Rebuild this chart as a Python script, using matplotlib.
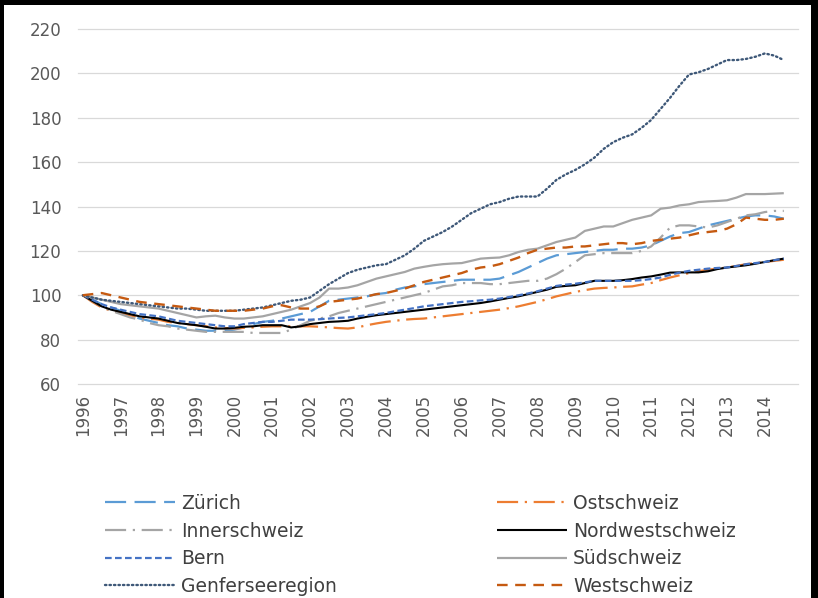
import matplotlib
matplotlib.use("Agg")
import matplotlib.pyplot as plt
from matplotlib.patches import Rectangle
import numpy as np

# Quarterly house price index, 1996 Q1 = 100 (1996 Q1 .. 2014 Q3)
years = list(range(1996, 2015))

zuerich = [
    100, 98, 96, 94.5,  93, 91, 89.5, 88.5,  87.5, 86.5, 86, 85,  84.5, 84, 84, 84,
    84.5, 85.5, 87, 88,  88.5, 89.5, 90.5, 91.5,  92.5, 95, 97.5, 98,  98.5, 99, 99.5, 100.5,
    101, 102.5, 103.5, 104,  105, 105.5, 106, 106.5,  107, 107, 107, 107,  107.5, 109, 110.5, 112.5,
    114.5, 116.5, 118, 118.5,  119, 119.5, 120, 120.5,  120.5, 121, 121, 121.5,  122.5, 124.5, 126.5, 128,
    128.5, 130, 131.5, 132.5,  133.5, 134.5, 135.5, 136,  136, 135.5, 134.5]

ostschweiz = [
    100, 97, 94.5, 93,  92, 91, 90, 89.5,  89, 88, 87.5, 87,  86.5, 86, 85.5, 85.2,
    85, 85.3, 85.5, 85.8,  86, 86, 86, 86,  86, 85.8, 85.5, 85.2,  85, 85.5, 86.5, 87.3,
    88, 88.5, 89, 89.3,  89.5, 90, 90.5, 91,  91.5, 92, 92.5, 93,  93.5, 94.2, 95, 96,
    97, 98.2, 99.5, 100.5,  101.5, 102.3, 103, 103.3,  103.5, 103.8, 104, 104.8,  105.5, 106.8, 108, 109,
    110, 110.8, 111.5, 112,  112.5, 113.2, 114, 114.5,  115, 115.5, 116]

innerschweiz = [
    100, 97.5, 95, 93,  91.5, 90, 89, 87.5,  86.5, 86, 85, 84.5,  84, 83.5, 83.5, 83.5,
    83.5, 83.5, 83, 83,  83, 83, 84.5, 86.5,  88.5, 89.5, 90.5, 92,  93, 94, 95, 96,
    97, 98, 99, 100,  101, 102.5, 104, 104.5,  105.5, 105.5, 105.5, 105,  105, 105.5, 106, 106.5,
    106.5, 107.5, 109.5, 112,  115, 118, 118.5, 119,  119, 119, 119, 120,  122, 126, 130.5, 131.5,
    131.5, 131, 130.5, 131.5,  133, 134.5, 136, 136.5,  137.5, 138, 138]

nordwestschweiz = [
    100, 97.5, 95, 93.5,  92.5, 91.5, 90.5, 90,  89.5, 88.5, 87.5, 87,  86.5, 85.8, 85, 85,
    85.3, 85.8, 86, 86.5,  86.5, 86.5, 85.5, 86,  87, 87.5, 88, 88.2,  88.5, 89.5, 90.3, 91,
    91.5, 92, 92.5, 93,  93.5, 94, 94.5, 95,  95.5, 96, 96.5, 97.2,  98, 98.8, 99.5, 100.5,
    101.5, 102.5, 103.8, 104.2,  104.5, 105.5, 106.5, 106.5,  106.5, 106.8, 107.3, 108,  108.5, 109.3, 110.2, 110.3,
    110.3, 110.3, 110.8, 111.8,  112.5, 113, 113.5, 114.2,  115, 115.8, 116.5]

bern = [
    100, 98, 96, 94.5,  93.5, 92.5, 91.5, 91,  90.5, 89.5, 88.5, 88,  87.5, 87, 86.5, 86,
    86, 87, 87.5, 88,  88, 88.5, 89, 89,  89, 89.2, 89.5, 89.8,  90, 90.5, 91, 91.5,
    92, 92.8, 93.5, 94.2,  95, 95.5, 96, 96.5,  97, 97.3, 97.7, 98,  98.5, 99.2, 100, 100.8,
    101.8, 103, 104.2, 104.8,  105.2, 105.8, 106.5, 106.5,  106.5, 106.5, 106.5, 106.8,  107.3, 108, 109.2, 110.2,
    111, 111.5, 112, 112.3,  112.5, 113.2, 114, 114.5,  115, 115.8, 116.5]

suedschweiz = [
    100, 99, 98, 97,  96, 95.5, 95, 94.5,  94, 93, 92, 91,  90, 90.5, 90.8, 90,
    89.5, 89.5, 90, 90.5,  91.5, 92.5, 93.5, 95,  96.5, 99, 103, 103,  103.5, 104.5, 106, 107.5,
    108.5, 109.5, 110.5, 112,  112.8, 113.5, 114, 114.3,  114.5, 115.5, 116.5, 116.8,  117, 118, 119.5, 120.5,
    121, 122.5, 124, 125,  126, 129, 130, 131,  131, 132.5, 134, 135,  136, 139, 139.5, 140.5,
    141, 142, 142.3, 142.5,  142.8, 144, 145.6, 145.6,  145.6, 145.8, 146]

genferseeregion = [
    100, 99, 98, 97.5,  97, 96.5, 96, 95.5,  95, 94.5, 94, 94,  93.5, 93, 93, 93,
    93, 93.5, 94, 94.5,  95.5, 96.5, 97.5, 98,  99, 102, 105, 107.5,  110, 111.5, 112.5, 113.5,
    114, 116, 118, 121,  124.5, 126.5, 128.5, 131,  134, 137, 139, 141,  142, 143.5, 144.5, 144.5,
    144.5, 148, 152, 154.5,  156.5, 159, 162, 166,  169, 171, 172.5, 175.5,  179, 184, 189, 194.5,
    199.5, 200.5, 202, 204,  206, 206, 206.5, 207.5,  209, 208, 206]

westschweiz = [
    100, 100.5, 101, 100,  99, 98, 97, 96.5,  96, 95.5, 95, 94.5,  94, 93.5, 93, 93,
    93, 93, 93.5, 94,  95, 95.5, 94.5, 94,  94, 95, 97, 97.5,  98, 98.5, 99.5, 100.5,
    101, 102, 103, 104.5,  106, 107, 108, 109,  110, 111.5, 112.5, 113,  114, 115.5, 117, 119,
    120.5, 121, 121.5, 121.5,  122, 122, 122.5, 123,  123.5, 123.5, 123, 123.5,  124.5, 125, 125.5, 126,
    127, 128, 128.5, 129,  130, 132, 135, 134.5,  134, 134, 134.5]

n_categories = 4 * len(years)  # axis reserves the full last year

series = [
    ("Zürich", zuerich, "#5B9BD5", (0, (9.5, 3.8)), 1.6, "butt"),
    ("Ostschweiz", ostschweiz, "#ED7D31", (0, (9.5, 3.0, 1.0, 3.0)), 1.6, "butt"),
    ("Innerschweiz", innerschweiz, "#A5A5A5", (0, (9.5, 3.0, 1.0, 3.0)), 1.6, "butt"),
    ("Nordwestschweiz", nordwestschweiz, "#000000", "-", 1.5, "butt"),
    ("Bern", bern, "#4472C4", (0, (3.0, 1.5)), 1.6, "butt"),
    ("Südschweiz", suedschweiz, "#A5A5A5", "-", 1.6, "butt"),
    ("Genferseeregion", genferseeregion, "#3E5878", (0, (0.6, 1.3)), 1.7, "round"),
    ("Westschweiz", westschweiz, "#C55A11", (0, (4.5, 3.2)), 1.7, "butt"),
]

W, H = 818, 598
fig = plt.figure(figsize=(W / 100, H / 100), dpi=100)
fig.patch.set_facecolor("white")

left, right, top, bottom = 78, 798, 29, 384
ax = fig.add_axes([left / W, 1 - bottom / H, (right - left) / W, (bottom - top) / H])

handles = {}
for name, vals, color, ls, lw, cap in series:
    x = np.arange(len(vals))
    (ln,) = ax.plot(x, vals, color=color, linestyle=ls, linewidth=lw,
                    dash_capstyle=cap, solid_capstyle="butt", label=name)
    handles[name] = ln

ax.set_xlim(-0.5, n_categories - 0.5)
ax.set_ylim(60, 220)
ax.set_yticks(np.arange(60, 221, 20))
ax.set_xticks([4 * i for i in range(len(years))])
ax.set_xticklabels([str(y) for y in years], rotation=90)

for s in ax.spines.values():
    s.set_visible(False)
ax.grid(axis="y", color="#D9D9D9", linewidth=0.9)
ax.set_axisbelow(True)
for gl in ax.get_ygridlines():
    gl.set_clip_on(False)
ax.tick_params(axis="both", length=0, colors="#595959", labelsize=12)
ax.tick_params(axis="y", pad=12)
ax.tick_params(axis="x", pad=7)

# Legend: two separate columns
col1 = ["Zürich", "Innerschweiz", "Bern", "Genferseeregion"]
col2 = ["Ostschweiz", "Nordwestschweiz", "Südschweiz", "Westschweiz"]
leg_kw = dict(loc="upper left", frameon=False, fontsize=13.5, handlelength=3.75,
              handletextpad=0.3, labelspacing=0.46, borderpad=0, borderaxespad=0,
              labelcolor="#404040")
leg1 = fig.legend([handles[n] for n in col1], col1,
                  bbox_to_anchor=(105 / W, 1 - 494 / H), **leg_kw)
leg2 = fig.legend([handles[n] for n in col2], col2,
                  bbox_to_anchor=(497 / W, 1 - 494 / H), **leg_kw)

# Black frame along the left, top and right edges
frame = dict(transform=None, facecolor="black", edgecolor="none")
fig.add_artist(Rectangle((0, 0), 4, H, **frame))
fig.add_artist(Rectangle((0, H - 5), W, 5, **frame))
fig.add_artist(Rectangle((811, 0), 7, H, **frame))

fig.savefig("out.png", dpi=100)
